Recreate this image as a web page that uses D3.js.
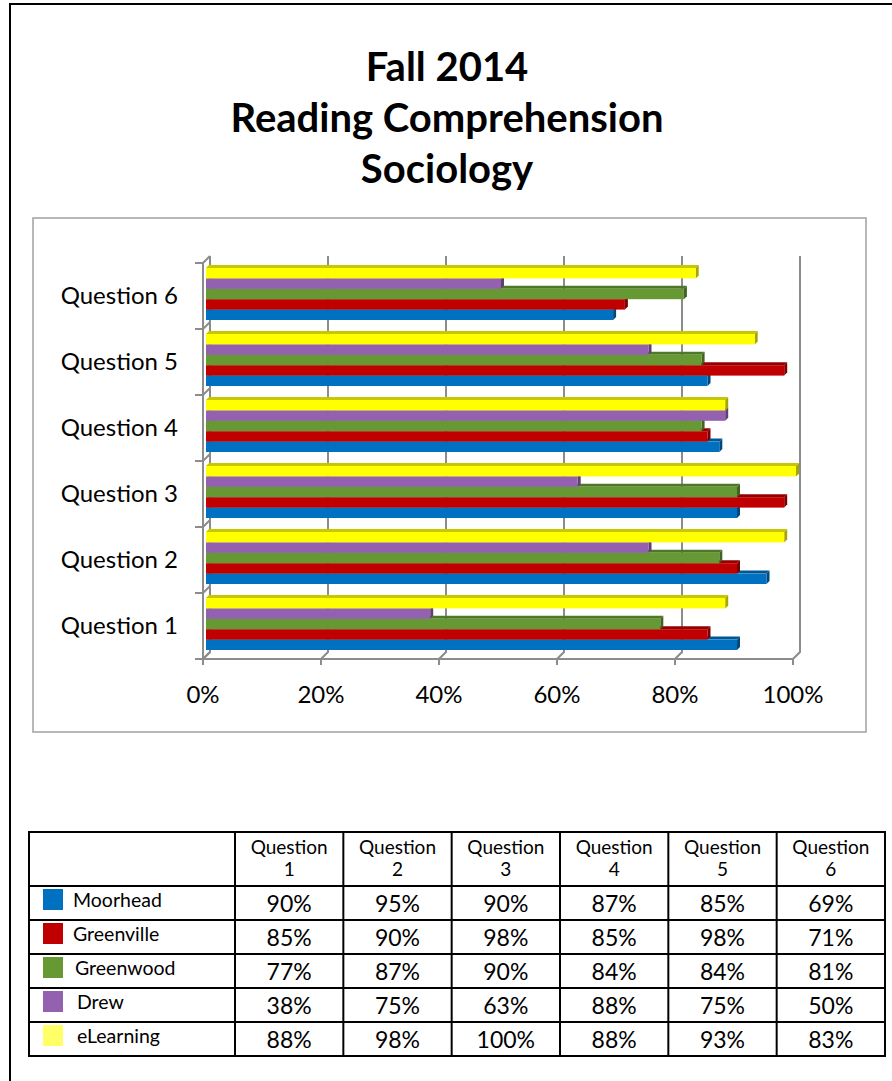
<!DOCTYPE html>
<html lang='en'>
	<head>
		<meta charset='utf-8'>
		<title>Fall 2014 Reading Comprehension</title>
		<script type='text/javascript' src='https://cdn.jsdelivr.net/npm/d3@7/dist/d3.min.js'></script>
		<style>
			html, body { margin: 0; padding: 0; background: #fff; }
			svg { display: block; font-family: Lato, 'Open Sans', sans-serif; }
			.title { font-weight: bold; font-size: 40px; fill: #000; }
			.ylab, .xlab { font-size: 24px; fill: #000; }
			.cell { font-size: 23px; fill: #000; }
			.head { font-size: 19px; fill: #000; }
			.rowlab { font-size: 19.5px; fill: #000; }
		</style>
	</head>
	<body>
		<script type='text/javascript'>
			var width = 892;
			var height = 1081;

			var titleLines = ['Fall 2014', 'Reading Comprehension', 'Sociology'];
			var questions = ['Question 1', 'Question 2', 'Question 3', 'Question 4', 'Question 5', 'Question 6'];
			var schools = ['Moorhead', 'Greenville', 'Greenwood', 'Drew', 'eLearning'];
			var moorhead = [90, 95, 90, 87, 85, 69];
			var greenville = [85, 90, 98, 85, 98, 71];
			var greenwood = [77, 87, 90, 84, 84, 81];
			var drew = [38, 75, 63, 88, 75, 50];
			var elearning = [88, 98, 100, 88, 93, 83];
			var xTicks = [0, 20, 40, 60, 80, 100];

			var colors = ['#0070c0', '#c00000', '#669933', '#9461b0', '#ffff00'];
			var legendColors = ['#0070c0', '#c00000', '#669933', '#9461b0', '#ffff66'];
			var series = [moorhead, greenville, greenwood, drew, elearning];

			var svg = d3.select('body').append('svg')
				.attr('width', width)
				.attr('height', height);

			// page frame
			svg.append('path')
				.attr('d', 'M10,1081V4H892')
				.attr('fill', 'none')
				.attr('stroke', '#000')
				.attr('stroke-width', 2);

			svg.selectAll('text.title')
				.data(titleLines)
				.enter().append('text')
					.attr('class', 'title')
					.attr('x', 447)
					.attr('y', function(d, i) { return 81 + i * 51; })
					.attr('text-anchor', 'middle')
					.text(function(d) { return d; });

			// chart box
			svg.append('rect')
				.attr('x', 33).attr('y', 218)
				.attr('width', 833).attr('height', 514)
				.attr('fill', '#fff')
				.attr('stroke', '#a0a0a0')
				.attr('stroke-width', 1.5);

			var x = d3.scaleLinear().domain([0, 100]).range([206, 796]);
			var y = d3.scaleBand().domain(questions.slice().reverse()).range([263, 659]);
			var yInner = d3.scaleBand().domain(schools.slice().reverse()).range([5, 57]);
			var depth = 3;
			var wall = 4;
			var grid = '#8c8c8c';

			var axes = svg.append('g').attr('class', 'axes')
				.attr('fill', 'none')
				.attr('stroke', grid)
				.attr('stroke-width', 2);

			// back wall gridlines with floor diagonals and front ticks
			xTicks.forEach(function(t) {
				var xb = x(t) + wall, xf = x(t) - 3;
				axes.append('path')
					.attr('d', 'M' + xb + ',' + (y.range()[0] - 7) + 'V' + (y.range()[1] - 7) +
						'L' + xf + ',' + y.range()[1] + 'V' + (y.range()[1] + 6));
			});
			// front x axis and y axis
			axes.append('path')
				.attr('d', 'M' + (x(0) - 3) + ',' + y.range()[1] + 'H' + (x(100) - 3));
			axes.append('path')
				.attr('d', 'M' + (x(0) - 3) + ',' + y.range()[0] + 'V' + y.range()[1]);
			var yTickPos = questions.map(function(q) { return y(q); }).concat([y.range()[1]]);
			axes.selectAll('path.ytick')
				.data(yTickPos)
				.enter().append('path')
					.attr('class', 'ytick')
					.attr('d', function(d) {
						return 'M' + (x(0) - 11) + ',' + d + 'H' + (x(0) - 3) + 'L' + (x(0) + wall) + ',' + (d - 7);
					});

			function shade(c, k) { return d3.color(c).darker(k).formatHex(); }

			// bars, drawn bottom series first so upper fronts cover lower tops
			var bars = svg.append('g').attr('class', 'bars');
			schools.forEach(function(s, si) {
				var g = bars.append('g');
				var col = colors[si];
				questions.forEach(function(q, qi) {
					var v = series[si][qi];
					var x0 = x(0), x1 = x(v);
					var y0 = y(q) + yInner(s), h = yInner.bandwidth();
					g.append('path')
						.attr('d', 'M' + x0 + ',' + y0 + 'L' + (x0 + depth) + ',' + (y0 - depth) +
							'H' + (x1 + depth) + 'L' + x1 + ',' + y0 + 'Z')
						.attr('fill', shade(col, 0.7));
					g.append('path')
						.attr('d', 'M' + x1 + ',' + y0 + 'L' + (x1 + depth) + ',' + (y0 - depth) +
							'V' + (y0 + h - depth) + 'L' + x1 + ',' + (y0 + h) + 'Z')
						.attr('fill', shade(col, 1.2));
					g.append('rect')
						.attr('x', x0).attr('y', y0)
						.attr('width', x1 - x0).attr('height', h)
						.attr('fill', col);
				});
			});

			svg.selectAll('text.ylab')
				.data(questions)
				.enter().append('text')
					.attr('class', 'ylab')
					.attr('x', 178)
					.attr('y', function(d) { return y(d) + y.bandwidth() / 2; })
					.attr('dy', '0.35em')
					.attr('text-anchor', 'end')
					.text(function(d) { return d; });

			svg.selectAll('text.xlab')
				.data(xTicks)
				.enter().append('text')
					.attr('class', 'xlab')
					.attr('x', function(d) { return x(d) - 3; })
					.attr('y', 703)
					.attr('text-anchor', 'middle')
					.text(function(d) { return d + '%'; });

			// data table
			var tx = d3.scaleBand().domain(questions).range([235, 885]);
			var rowY = [886, 920, 954, 988, 1022, 1056];
			var tbl = svg.append('g').attr('class', 'table');

			schools.forEach(function(s, si) {
				var yTop = rowY[si], yBot = rowY[si + 1];
				tbl.append('rect')
					.attr('x', 43).attr('y', yTop + 3)
					.attr('width', 20).attr('height', 21)
					.attr('fill', legendColors[si]);
				tbl.append('text')
					.attr('class', 'rowlab')
					.attr('x', s === 'Drew' || s === 'eLearning' ? 77 : (s === 'Greenwood' ? 75 : 73))
					.attr('y', yTop + 14)
					.attr('dy', '0.35em')
					.text(s);
				tbl.selectAll(null)
					.data(series[si])
					.enter().append('text')
						.attr('class', 'cell')
						.attr('x', function(d, i) { return tx(questions[i]) + tx.bandwidth() / 2; })
						.attr('y', (yTop + yBot) / 2 + 1)
						.attr('dy', '0.35em')
						.attr('text-anchor', 'middle')
						.text(function(d) { return d + '%'; });
			});

			questions.forEach(function(q) {
				var parts = q.split(' ');
				tbl.append('text')
					.attr('class', 'head')
					.attr('x', tx(q) + tx.bandwidth() / 2)
					.attr('text-anchor', 'middle')
					.selectAll('tspan')
					.data(parts)
					.enter().append('tspan')
						.attr('x', tx(q) + tx.bandwidth() / 2)
						.attr('y', function(d, i) { return 854 + i * 22; })
						.text(function(d) { return d; });
			});

			var lines = tbl.append('g')
				.attr('stroke', '#000')
				.attr('stroke-width', 2)
				.attr('fill', 'none');
			lines.append('rect')
				.attr('x', 29).attr('y', 832)
				.attr('width', 856).attr('height', 224);
			lines.selectAll('line.h')
				.data(rowY.slice(0, 5))
				.enter().append('line')
					.attr('x1', 29).attr('x2', 885)
					.attr('y1', function(d) { return d; })
					.attr('y2', function(d) { return d; });
			lines.selectAll('line.v')
				.data(questions)
				.enter().append('line')
					.attr('y1', 832).attr('y2', 1056)
					.attr('x1', function(d) { return tx(d); })
					.attr('x2', function(d) { return tx(d); });
		</script>
	</body>
</html>
